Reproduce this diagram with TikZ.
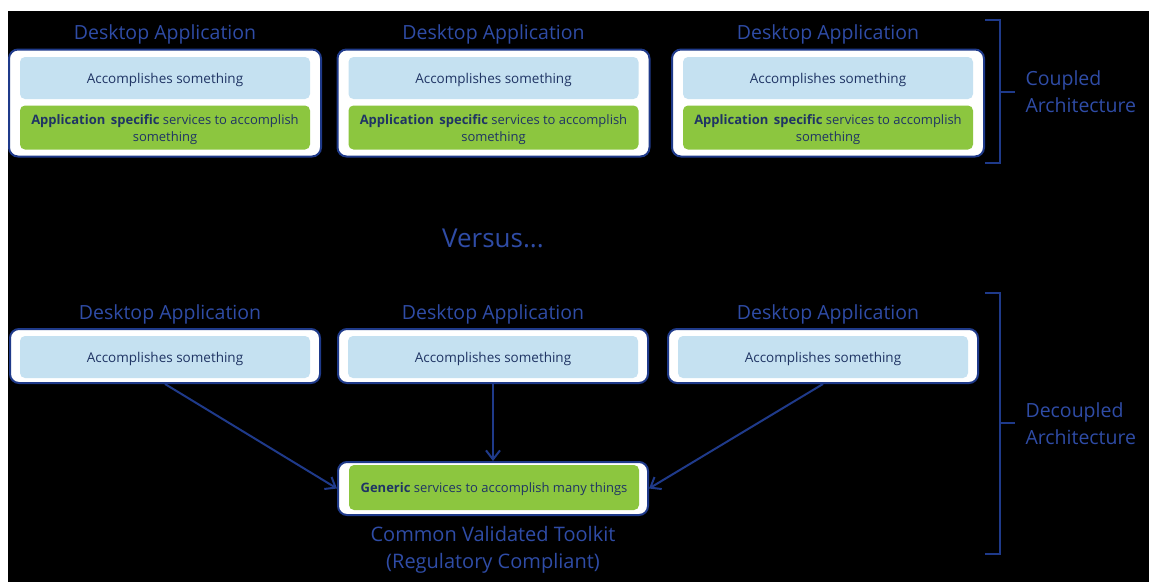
\documentclass[tikz,border=0pt]{standalone}
\usepackage{fontspec}
\setmainfont{Open Sans}
\usetikzlibrary{arrows.meta}
\definecolor{frameblue}{HTML}{1F3A8A}
\definecolor{titleblue}{HTML}{2F4CA6}
\definecolor{navy}{HTML}{1F3464}
\definecolor{paleblue}{HTML}{C5E1F1}
\definecolor{leafgreen}{HTML}{8CC63F}
% box text, set a little below the geometric centre (dimensions kept)
\newcommand{\boxtext}[1]{\raisebox{-2pt}[\height][\depth]{\begin{tabular}{@{}c@{}}#1\end{tabular}}}
\tikzset{
  x=1pt, y=-1pt,
  appframe/.style={draw=frameblue, line width=2pt, fill=white, rounded corners=9pt, inner sep=0pt},
  taskbox/.style={fill=paleblue, rounded corners=5pt, minimum width=290pt, minimum height=42pt, inner sep=0pt,
    text=navy, font=\fontsize{13.5}{17}\selectfont},
  servicebox/.style={fill=leafgreen, rounded corners=5pt, minimum width=290pt, inner sep=0pt,
    text=navy, font=\fontsize{13}{17}\selectfont},
  apptitle/.style={text=titleblue, font=\fontsize{19.5}{22}\selectfont},
  sidelabel/.style={text=titleblue, font=\fontsize{19.5}{27}\selectfont, align=left, anchor=west},
  link/.style={draw=frameblue, line width=2pt, -{Straight Barb[length=9pt, width=14pt, line width=2pt]}},
  brace/.style={draw=frameblue, line width=2pt}
}
\begin{document}
\begin{tikzpicture}
% page and dark panel
\useasboundingbox (0,0) rectangle (1149,582);
\fill[white] (0,0) rectangle (1149,582);
\fill[black] (8,11) rectangle (1149,582);

% ---------- coupled architecture ----------
\foreach \n/\cx in {1/165, 2/493.5, 3/828} {
  \node[apptitle] (ctitle\n) at (\cx,34) {Desktop Application};
  \node[appframe, minimum width=312pt, minimum height=107pt] (cframe\n) at (\cx,103) {};
  \node[taskbox] (ctask\n) at (\cx,78) {\boxtext{Accomplishes something}};
  \node[servicebox, minimum height=44pt] (cserv\n) at (\cx,127.5)
    {\boxtext{\textbf{Application\, specific} services to accomplish\\something}};
}

% ---------- versus ----------
\node[text=titleblue, font=\fontsize{26}{28}\selectfont] (versus) at (493,238) {Versus...};

% ---------- decoupled architecture ----------
\foreach \n/\cx/\tx in {1/165/170, 2/493/493, 3/823/828} {
  \node[apptitle] (dtitle\n) at (\tx,314) {Desktop Application};
  \node[appframe, minimum width=310pt, minimum height=54pt] (dframe\n) at (\cx,356) {};
  \node[taskbox] (dtask\n) at (\cx,357) {\boxtext{Accomplishes something}};
}

% shared toolkit
\node[appframe, minimum width=310pt, minimum height=53pt] (kit) at (493,488.5) {};
\node[servicebox, minimum height=45pt] (kitserv) at (494,487.5)
  {\boxtext{\textbf{Generic} services to accomplish many things}};
\node[text=titleblue, font=\fontsize{20}{27}\selectfont, align=center, anchor=north] (kitlabel) at (493,523)
  {Common Validated Toolkit\\(Regulatory Compliant)};

% dependencies on the toolkit
\draw[link] (dframe1.south) -- (kit.west);
\draw[link] (dframe2.south) -- (kit.north);
\draw[link] (dframe3.south) -- (kit.east);

% ---------- grouping brackets ----------
\coordinate (cbtop) at (985,20);
\coordinate (cbbot) at (985,163);
\coordinate (cbtip) at (1015,91.5);
\draw[brace] (cbtop) -- (1000,20) -- (1000,163) -- (cbbot);
\draw[brace] (1000,91.5) -- (cbtip);
\node[sidelabel] (coupled) at (1022,92) {Coupled\\Architecture};

\coordinate (dbtop) at (985,293);
\coordinate (dbbot) at (985,554);
\coordinate (dbtip) at (1015,423);
\draw[brace] (dbtop) -- (1000,293) -- (1000,554) -- (dbbot);
\draw[brace] (1000,423) -- (dbtip);
\node[sidelabel] (decoupled) at (1022,424) {Decoupled\\Architecture};
\end{tikzpicture}
\end{document}
